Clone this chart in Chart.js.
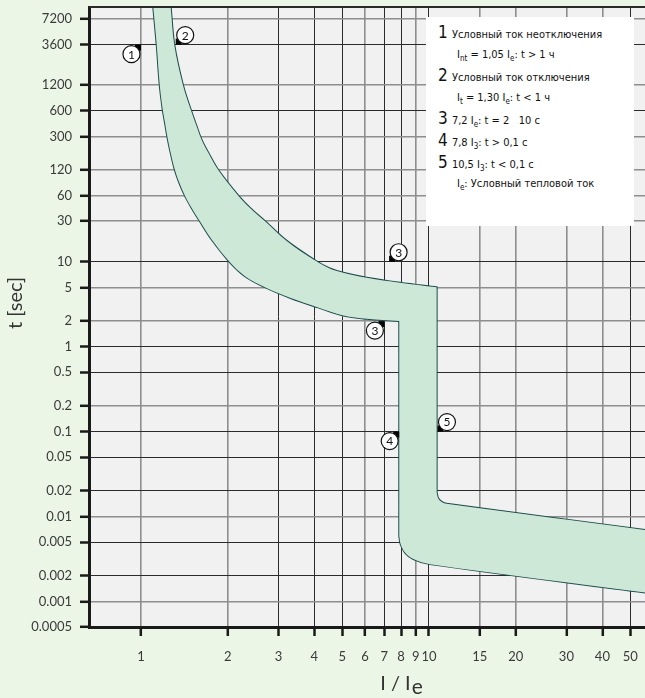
<!DOCTYPE html>
<html>
<head>
<meta charset="utf-8">
<script src="https://cdn.jsdelivr.net/npm/chart.js@4.4.1/dist/chart.umd.min.js"></script>
<style>
  html, body { margin: 0; padding: 0; background: #ecf6e6; }
  #wrap { position: relative; width: 645px; height: 698px; overflow: hidden; }
  #legendBox {
    position: absolute; left: 426px; top: 17px; width: 208px; height: 209px;
    background: #fff; color: #111; box-sizing: border-box; padding: 5px 0 0 12px;
    font-family: "Liberation Sans Narrow", "DejaVu Sans Condensed", sans-serif;
    font-stretch: condensed; font-size: 11px;
  }
  #legendBox div { height: 21.6px; line-height: 21.6px; white-space: nowrap; }
  #legendBox .n { font-size: 17px; margin-right: 1px; }
  #legendBox .ind { padding-left: 19px; }
  #legendBox sub { font-size: 8px; vertical-align: -3px; line-height: 0; }
</style>
</head>
<body>
<div id="wrap">
  <canvas id="tripChart" width="645" height="698"></canvas>
  <div id="legendBox">
    <div><span class="n">1</span> Условный ток неотключения</div>
    <div class="ind">I<sub>nt</sub> = 1,05 I<sub>e</sub>: t &gt; 1 ч</div>
    <div><span class="n">2</span> Условный ток отключения</div>
    <div class="ind">I<sub>t</sub> = 1,30 I<sub>e</sub>: t &lt; 1 ч</div>
    <div><span class="n">3</span> 7,2 I<sub>e</sub>: t = 2&nbsp;&nbsp;&nbsp;10 с</div>
    <div><span class="n">4</span> 7,8 I<sub>3</sub>: t &gt; 0,1 с</div>
    <div><span class="n">5</span> 10,5 I<sub>3</sub>: t &lt; 0,1 с</div>
    <div class="ind">I<sub>e</sub>: Условный тепловой ток</div>
  </div>
</div>
<script>
// axis ticks
const xTicks = [1, 2, 3, 4, 5, 6, 7, 8, 9, 10, 15, 20, 30, 40, 50];
const yTicks = [0.0005, 0.001, 0.002, 0.005, 0.01, 0.02, 0.05, 0.1, 0.2, 0.5, 1, 2, 5, 10,
                30, 60, 120, 300, 600, 1200, 3600, 7200];

// cold (lower) boundary of the trip band: I/Ie and t [sec]
const leftCurveI = [1.103, 1.134, 1.162, 1.190, 1.212, 1.234, 1.268, 1.312, 1.359, 1.421, 1.500,
                    1.602, 1.760, 2.029, 2.297, 2.696, 3.292, 4.118, 5.04, 6.076, 7.885,
                    7.885, 7.974, 8.254, 8.822, 10.08, 56.23];
const leftCurveT = [10000, 3600, 1200, 619, 432, 300, 192, 120, 85, 60, 43,
                    30, 18.3, 10, 6.77, 5.02, 3.77, 2.90, 2.33, 2.135, 2.0,
                    0.0059, 0.00472, 0.00377, 0.00315, 0.00275, 0.001276];

// hot (upper) boundary of the trip band
const rightCurveI = [1.268, 1.305, 1.399, 1.488, 1.552, 1.622, 1.713, 1.855, 2.177, 2.391,
                     2.696, 3.206, 4.052, 4.5, 5.04, 6.08, 7.93, 10.63,
                     10.63, 10.77, 11.07, 11.52, 56.23];
const rightCurveT = [10000, 3600, 1200, 619, 412, 275, 192, 120, 60, 43,
                     30, 17.6, 10.2, 8.4, 7.43, 6.49, 5.66, 5.0,
                     0.0192, 0.0163, 0.01485, 0.0141, 0.00695];

// numbered markers on the chart
const markLabels = ['1', '2', '3', '3', '4', '5'];
const markI = [1.0, 1.32, 7.27, 7.0, 7.88, 10.7];
const markT = [3600, 3600, 10, 2, 0.1, 0.1];

const toPoints = (xs, ys) => xs.map((v, i) => ({ x: v, y: ys[i] }));

// a repeated point keeps the spline square at that corner
function withCorners(pts, corners) {
    const out = [];
    pts.forEach((p, i) => {
        out.push(p);
        if (corners.includes(i)) out.push({ x: p.x, y: p.y });
    });
    return out;
}

const leftCorners = [20, 21];
const rightCorners = [17, 18];
const leftPts = withCorners(toPoints(leftCurveI, leftCurveT), leftCorners);
const rightPts = withCorners(toPoints(rightCurveI, rightCurveT), rightCorners);
const bandPts = withCorners(toPoints(leftCurveI, leftCurveT), leftCorners.concat([leftCurveI.length - 1]))
    .concat(withCorners(toPoints(rightCurveI, rightCurveT), rightCorners.concat([rightCurveI.length - 1])).reverse());

const darkX = [3, 4, 5, 7, 8, 10, 50];
const darkY = [3600, 600, 10, 1, 0.5, 0.1, 0.05, 0.02, 0.005, 0.002];
const markSide = ['ld', 'ru', 'ru', 'ld', 'ld', 'ru'];

const tickFont = { family: 'Lato', size: 13 };
const curveTension = 0.35;

const plotBackground = {
    id: 'plotBackground',
    beforeDraw(chart) {
        const { ctx, chartArea: a } = chart;
        ctx.save();
        ctx.fillStyle = '#f1f1f1';
        ctx.fillRect(a.left, a.top, a.right - a.left, a.bottom - a.top);
        ctx.restore();
    }
};

const overlay = {
    id: 'overlay',
    afterDatasetsDraw(chart) {
        const { ctx, chartArea: a, scales } = chart;
        ctx.save();
        // top frame line
        ctx.strokeStyle = '#2a2a2a';
        ctx.lineWidth = 2;
        ctx.beginPath();
        ctx.moveTo(a.left, a.top);
        ctx.lineTo(a.right, a.top);
        ctx.stroke();

        // circled numbers
        const r = 8.5, off = 9.5, sq = 6;
        markLabels.forEach((lab, i) => {
            const px = scales.x.getPixelForValue(markI[i]);
            const py = scales.y.getPixelForValue(markT[i]);
            const sx = markSide[i] === 'ld' ? -1 : 1;
            const sy = markSide[i] === 'ld' ? 1 : -1;
            ctx.fillStyle = '#000';
            ctx.fillRect(sx < 0 ? px - sq : px, sy > 0 ? py : py - sq, sq, sq);
            const cx = px + sx * off, cy = py + sy * off;
            ctx.beginPath();
            ctx.arc(cx, cy, r, 0, Math.PI * 2);
            ctx.fillStyle = '#fff';
            ctx.fill();
            ctx.lineWidth = 1.2;
            ctx.strokeStyle = '#111';
            ctx.stroke();
            ctx.fillStyle = '#111';
            ctx.font = '12px Lato';
            ctx.textAlign = 'center';
            ctx.textBaseline = 'middle';
            ctx.fillText(lab, cx, cy + 0.5);
        });
        ctx.restore();
    },
    afterDraw(chart) {
        const { ctx } = chart;
        ctx.save();
        ctx.fillStyle = '#333';
        // y axis title
        ctx.font = '20px Lato';
        ctx.translate(16, 303);
        ctx.rotate(-Math.PI / 2);
        ctx.textAlign = 'center';
        ctx.textBaseline = 'middle';
        ctx.fillText('t [sec]', 0, 0);
        ctx.setTransform(1, 0, 0, 1, 0, 0);
        // x axis title with subscript
        ctx.textAlign = 'left';
        ctx.textBaseline = 'alphabetic';
        const main = 'I / I', sub = 'e';
        const w1 = ctx.measureText(main).width;
        ctx.font = '21px Lato';
        const w2 = ctx.measureText(sub).width;
        const x0 = 401 - (w1 + w2) / 2;
        ctx.font = '20px Lato';
        ctx.fillText(main, x0, 690);
        ctx.font = '21px Lato';
        ctx.fillText(sub, x0 + w1 + 1, 694);
        ctx.restore();
    }
};

function gridFor(darkList) {
    return {
        color: c => darkList.includes(c.tick && c.tick.value) ? '#2b2b2b' : '#8e8e8e',
        lineWidth: c => darkList.includes(c.tick && c.tick.value) ? 1 : 1.6,
        tickColor: '#1a1a1a',
        tickWidth: 2.5,
        tickLength: 9
    };
}

const lineStyle = {
    showLine: true,
    fill: false,
    borderColor: '#1d4c4e',
    borderWidth: 2,
    pointRadius: 0,
    tension: curveTension
};

new Chart(document.getElementById('tripChart'), {
    type: 'scatter',
    data: {
        datasets: [
            {
                label: 'band',
                data: bandPts,
                showLine: true,
                fill: 'shape',
                backgroundColor: '#cde8d6',
                borderColor: 'transparent',
                borderWidth: 0,
                pointRadius: 0,
                tension: curveTension
            },
            Object.assign({ label: 'cold', data: leftPts }, lineStyle),
            Object.assign({ label: 'hot', data: rightPts }, lineStyle)
        ]
    },
    options: {
        responsive: false,
        animation: false,
        layout: { padding: { top: 7, left: 0, right: 0, bottom: 0 } },
        plugins: { legend: { display: false }, tooltip: { enabled: false } },
        scales: {
            x: {
                type: 'logarithmic',
                min: 0.66,
                max: 56.23,
                afterBuildTicks: s => { s.ticks = xTicks.map(v => ({ value: v })); },
                afterFit: s => { s.height = 71; s.paddingLeft = 0; s.paddingRight = 0; },
                ticks: {
                    autoSkip: false, maxRotation: 0, padding: 13,
                    color: '#3a3a3a', font: tickFont,
                    callback: v => String(v)
                },
                grid: gridFor(darkX),
                border: { color: '#1a1a1a', width: 3 }
            },
            y: {
                type: 'logarithmic',
                min: 0.0005,
                max: 10000,
                afterBuildTicks: s => { s.ticks = yTicks.map(v => ({ value: v })); },
                afterFit: s => { s.width = 89; s.paddingTop = 0; s.paddingBottom = 0; },
                ticks: {
                    autoSkip: false, padding: 8,
                    color: '#3a3a3a', font: tickFont,
                    callback: v => String(v)
                },
                grid: gridFor(darkY),
                border: { color: '#1a1a1a', width: 3 }
            }
        }
    },
    plugins: [plotBackground, overlay]
});
</script>
</body>
</html>
